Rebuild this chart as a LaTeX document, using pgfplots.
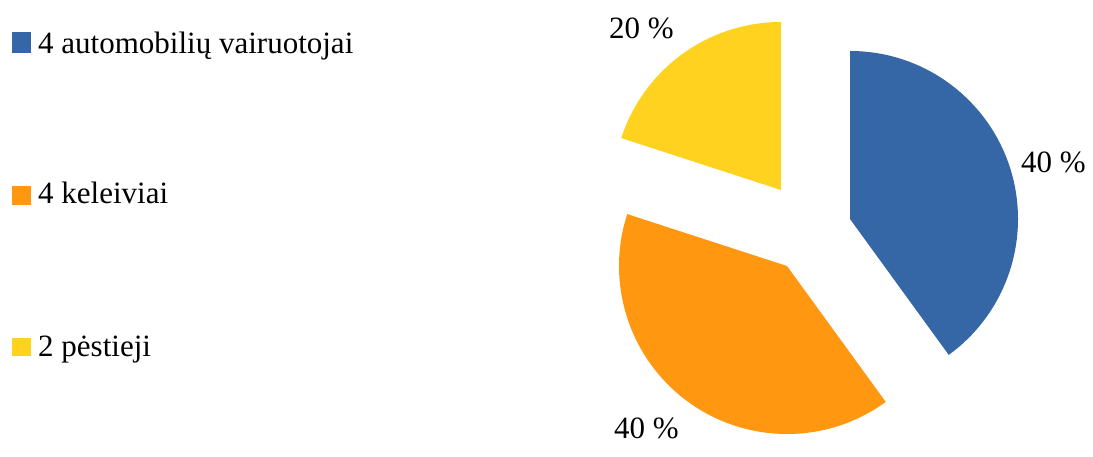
\documentclass[border=0pt]{standalone}
\usepackage{pgfplots}
\pgfplotsset{compat=1.18}
\usepackage{fontspec}
\setmainfont{Liberation Serif}

\definecolor{sliceblue}{RGB}{53,103,166}
\definecolor{sliceorange}{RGB}{255,151,17}
\definecolor{sliceyellow}{RGB}{255,210,32}

% 4 automobiliu vairuotojai: 40 %, keleiviai: 40 %, pestieji: 20 %
\newcommand{\R}{168}

\begin{document}
\begin{tikzpicture}
\begin{axis}[
    width=1093bp, height=443bp,
    scale only axis,
    xmin=0, xmax=1093, ymin=0, ymax=443,
    hide axis,
    clip=false,
]
% keep the full canvas as bounding box
\path (axis cs:0,0) rectangle (axis cs:1093,443);

% slices: angle = share * 3.6, clockwise from 90 degrees
% automobiliu vairuotojai 40 % : 90 -> -54
\fill[sliceblue] (axis cs:850,224) -- ++(90:\R bp)
    arc[start angle=90, end angle=-54, radius=\R bp] -- cycle;
% keleiviai 40 % : -54 -> -198
\fill[sliceorange] (axis cs:787,177) -- ++(-54:\R bp)
    arc[start angle=-54, end angle=-198, radius=\R bp] -- cycle;
% pestieji 20 % : -198 -> -270
\fill[sliceyellow] (axis cs:781,253) -- ++(-198:\R bp)
    arc[start angle=-198, end angle=-270, radius=\R bp] -- cycle;

% data labels
\node[anchor=base west, inner sep=0pt, font=\fontsize{31bp}{37bp}\selectfont]
    at (axis cs:1021,270) {40 \%};
\node[anchor=base west, inner sep=0pt, font=\fontsize{31bp}{37bp}\selectfont]
    at (axis cs:614,4) {40 \%};
\node[anchor=base west, inner sep=0pt, font=\fontsize{31bp}{37bp}\selectfont]
    at (axis cs:609,404) {20 \%};

% legend
\fill[sliceblue] (axis cs:12,390) rectangle (axis cs:31,411);
\node[anchor=base west, inner sep=0pt, font=\fontsize{31bp}{37bp}\selectfont]
    at (axis cs:38,389) {4 automobilių vairuotojai};
\fill[sliceorange] (axis cs:12,238) rectangle (axis cs:31,257);
\node[anchor=base west, inner sep=0pt, font=\fontsize{31bp}{37bp}\selectfont]
    at (axis cs:38,239) {4 keleiviai};
\fill[sliceyellow] (axis cs:12,87) rectangle (axis cs:31,105);
\node[anchor=base west, inner sep=0pt, font=\fontsize{31bp}{37bp}\selectfont]
    at (axis cs:38,86) {2 pėstieji};
\end{axis}
\end{tikzpicture}
\end{document}
